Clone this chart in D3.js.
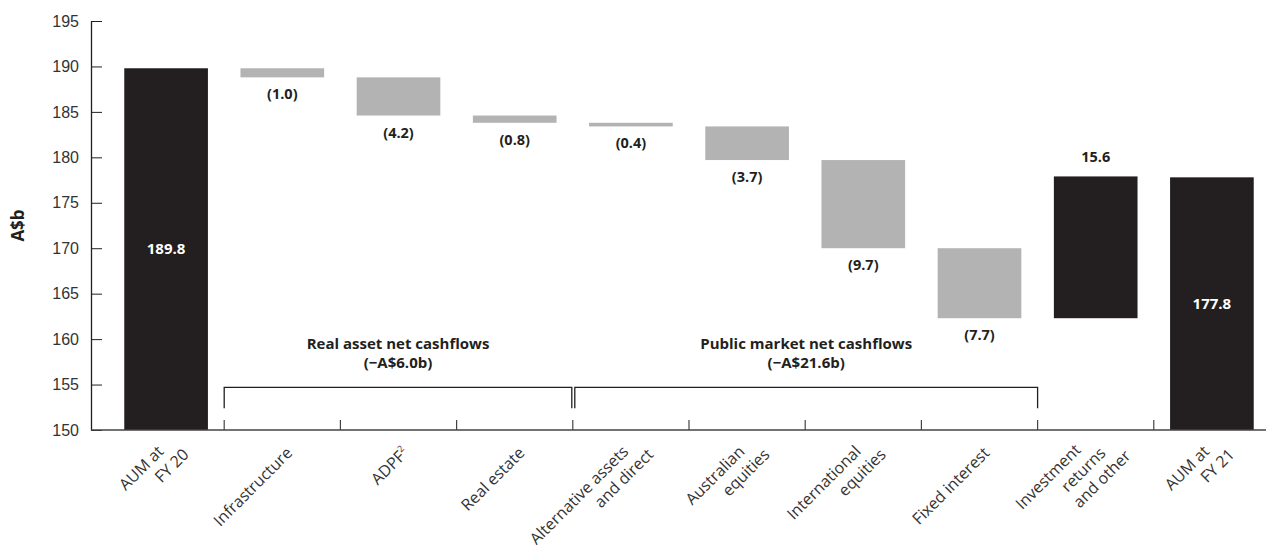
<!DOCTYPE html>
<html>
<head>
<meta charset="utf-8">
<script src="https://cdn.jsdelivr.net/npm/d3@7"></script>
<style>
    body { margin: 0; background: #fff; }
    svg { display: block; font-family: "Open Sans", "Noto Sans", sans-serif; }
    .tick text { fill: #333; font-size: 16px; }
    .tick line, .domain { stroke: #231f20; }
</style>
</head>
<body>
<svg id="gfx" width="1266" height="545"></svg>
<script>
// chart data
const labelLines = [
    ["AUM at", "FY 20"],
    ["Infrastructure"],
    ["ADPF"],
    ["Real estate"],
    ["Alternative assets", "and direct"],
    ["Australian", "equities"],
    ["International", "equities"],
    ["Fixed interest"],
    ["Investment", "returns", "and other"],
    ["AUM at", "FY 21"]
];
const values = [189.8, -1.0, -4.2, -0.8, -0.4, -3.7, -9.7, -7.7, 15.6, 177.8];
const kinds = ["total", "delta", "delta", "delta", "delta", "delta", "delta", "delta", "delta", "total"];
const valueLabels = ["189.8", "(1.0)", "(4.2)", "(0.8)", "(0.4)", "(3.7)", "(9.7)", "(7.7)", "15.6", "177.8"];
const yTicks = [150, 155, 160, 165, 170, 175, 180, 185, 190, 195];
const groupNames = [["Real asset net cashflows", "(\u2212A$6.0b)"], ["Public market net cashflows", "(\u2212A$21.6b)"]];
const groupFrom = [1, 4];
const groupTo = [3, 7];

const gfx = {
    width: 1266,
    height: 545,
    left: 91,
    top: 21,
    bottom: 430,
    dark: "#231f20",
    grey: "#b3b3b3"
};

const svg = d3.select("#gfx");

// build waterfall rows
let running = 0;
const rows = values.map((v, i) => {
    let lo, hi;
    if (kinds[i] === "total") {
        lo = 150; hi = v; running = v;
    } else {
        const start = running;
        running = start + v;
        lo = Math.min(start, running); hi = Math.max(start, running);
    }
    return { i: i, v: v, lo: lo, hi: hi, kind: kinds[i], label: valueLabels[i], lines: labelLines[i] };
});

const x = d3.scaleBand()
    .domain(d3.range(values.length))
    .range([108, 1270])
    .paddingInner(0.28)
    .paddingOuter(0.14);

const y = d3.scaleLinear()
    .domain([150, 195])
    .range([gfx.bottom, gfx.top]);

const step = x.step();
const edge = i => x(i) - step * x.paddingInner() / 2;   // left boundary of a category

// y axis
svg.append("g")
    .attr("transform", "translate(" + gfx.left + ",0)")
    .call(d3.axisLeft(y).tickValues(yTicks).tickSize(-11).tickSizeOuter(0).tickPadding(12))
    .call(g => g.select(".domain").attr("stroke-width", 1.3));

// bars
svg.append("g").selectAll("rect")
    .data(rows)
    .join("rect")
    .attr("x", d => x(d.i))
    .attr("width", x.bandwidth())
    .attr("y", d => y(d.hi))
    .attr("height", d => y(d.lo) - y(d.hi))
    .attr("fill", d => d.kind === "total" || d.v > 0 ? gfx.dark : gfx.grey);

// x axis line and category ticks
svg.append("line")
    .attr("x1", gfx.left).attr("x2", gfx.width)
    .attr("y1", gfx.bottom).attr("y2", gfx.bottom)
    .attr("stroke", "#444").attr("stroke-width", 1.6);

svg.append("g").selectAll("line")
    .data(d3.range(1, values.length))
    .join("line")
    .attr("x1", d => edge(d)).attr("x2", d => edge(d))
    .attr("y1", gfx.bottom).attr("y2", gfx.bottom - 10)
    .attr("stroke", "#444").attr("stroke-width", 1.2);

// value labels
svg.append("g").selectAll("text")
    .data(rows)
    .join("text")
    .attr("x", d => x(d.i) + x.bandwidth() / 2)
    .attr("y", d => {
        if (d.kind === "total") return (y(d.lo) + y(d.hi)) / 2 + 5;
        if (d.v < 0) return y(d.lo) + 22;
        return y(d.hi) - 14;
    })
    .attr("text-anchor", "middle")
    .attr("font-size", d => d.kind === "total" ? "15px" : "14.5px")
    .attr("font-weight", "bold")
    .attr("fill", d => d.kind === "total" ? "#fff" : gfx.dark)
    .text(d => d.label);

// category labels, rotated
const lineShift = [25, 3];
const catG = svg.append("g");
rows.forEach(d => {
    const n = d.lines.length;
    d.lines.forEach((t, k) => {
        const off = k - (n - 1) / 2;
        const px = x(d.i) + x.bandwidth() / 2 + 11 + off * lineShift[0];
        const py = 454 + off * lineShift[1];
        const txt = catG.append("text")
            .attr("transform", "translate(" + px + "," + py + ") rotate(-45)")
            .attr("text-anchor", "end")
            .attr("font-size", "16px")
            .attr("fill", "#333")
            .text(t);
        if (t === "ADPF") {
            txt.append("tspan")
                .attr("font-size", "9px")
                .attr("dy", -7)
                .text("2");
        }
    });
});

// group brackets
const brackY = y(154.7);
const brackLow = y(152.4);
groupNames.forEach((names, gi) => {
    const x0 = edge(groupFrom[gi]) + (gi === 1 ? 2 : 0);
    const x1 = edge(groupTo[gi] + 1) - (gi === 0 ? 1 : 0);
    svg.append("path")
        .attr("d", "M" + x0 + "," + brackLow + "V" + brackY + "H" + x1 + "V" + brackLow)
        .attr("fill", "none")
        .attr("stroke", gfx.dark)
        .attr("stroke-width", 1.3);
    names.forEach((t, k) => {
        svg.append("text")
            .attr("x", (x0 + x1) / 2)
            .attr("y", 349 + k * 19)
            .attr("text-anchor", "middle")
            .attr("font-size", "15px")
            .attr("font-weight", "bold")
            .attr("fill", gfx.dark)
            .text(t);
    });
});

// y axis title
svg.append("text")
    .attr("transform", "translate(24," + ((gfx.top + gfx.bottom) / 2) + ") rotate(-90)")
    .attr("text-anchor", "middle")
    .attr("font-size", "17px")
    .attr("font-weight", "bold")
    .attr("fill", gfx.dark)
    .text("A$b");
</script>
</body>
</html>
